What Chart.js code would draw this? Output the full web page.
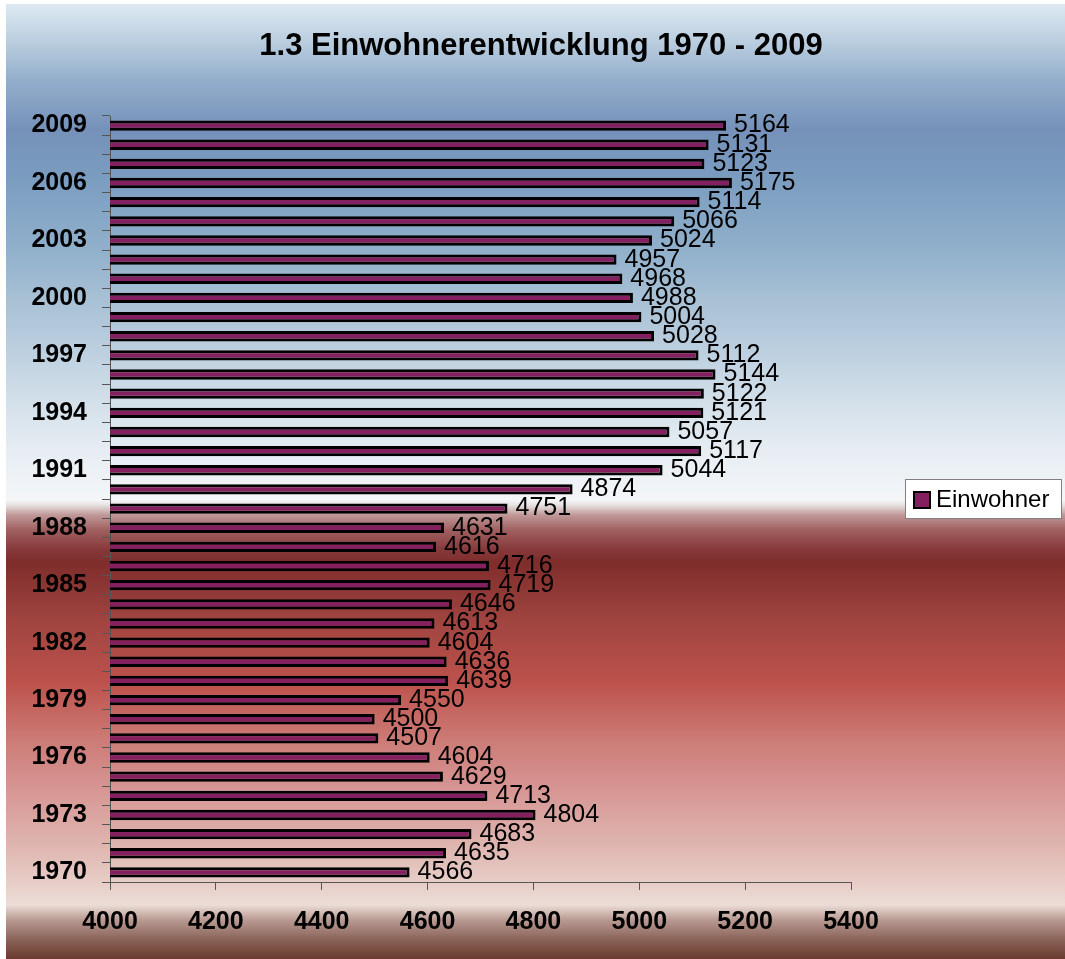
<!DOCTYPE html>
<html>
<head>
<meta charset="utf-8">
<title>1.3 Einwohnerentwicklung 1970 - 2009</title>
<script src="https://cdn.jsdelivr.net/npm/chart.js@4.4.0/dist/chart.umd.min.js"></script>
<style>
  html, body { margin: 0; padding: 0; background: #fff; }
</style>
</head>
<body>
<canvas id="chart" width="1065" height="959"></canvas>
<script>
// data, oldest year first (axis is reversed so 2009 sits on top)
const years = ['1970', '1971', '1972', '1973', '1974', '1975', '1976', '1977', '1978', '1979',
               '1980', '1981', '1982', '1983', '1984', '1985', '1986', '1987', '1988', '1989',
               '1990', '1991', '1992', '1993', '1994', '1995', '1996', '1997', '1998', '1999',
               '2000', '2001', '2002', '2003', '2004', '2005', '2006', '2007', '2008', '2009'];
const einwohner = [4566, 4635, 4683, 4804, 4713, 4629, 4604, 4507, 4500, 4550,
                   4639, 4636, 4604, 4613, 4646, 4719, 4716, 4616, 4631, 4751,
                   4874, 5044, 5117, 5057, 5121, 5122, 5144, 5112, 5028, 5004,
                   4988, 4968, 4957, 5024, 5066, 5114, 5175, 5123, 5131, 5164];
const seriesName = 'Einwohner';
const titleText = '1.3 Einwohnerentwicklung 1970 - 2009';
const xMin = 4000;
const xMax = 5400;
const xStep = 200;
const yearLabelEvery = 3;

const FONT = '"Liberation Sans", Arial, sans-serif';
const BAR_COLOR = '#84205f';

// background gradient stops: [page y, colour]
const bgStops = [
    [4, '#dde9f2'], [40, '#bccfe0'], [80, '#93aecb'], [130, '#7591b9'],
    [180, '#7b9dc0'], [250, '#90b0cb'], [300, '#a8c1d5'], [350, '#bccfdf'],
    [400, '#d2dfe9'], [450, '#e6edf3'], [500, '#f4f6f8'], [505, '#e8e2e2'],
    [515, '#c09898'], [530, '#a06060'], [550, '#86383a'], [562, '#7e2d2b'],
    [620, '#a04440'], [683, '#bd524c'], [740, '#cc7b76'], [783, '#d59290'],
    [850, '#e0b8b2'], [905, '#ecdcd6'], [920, '#b89a92'], [940, '#8a6258'],
    [959, '#6a3a2e']
];

const backgroundPlugin = {
    id: 'background',
    beforeDraw(chart) {
        const ctx = chart.ctx;
        ctx.save();
        ctx.fillStyle = '#ffffff';
        ctx.fillRect(0, 0, chart.width, chart.height);
        const g = ctx.createLinearGradient(0, 4, 0, 959);
        bgStops.forEach(([y, c]) => g.addColorStop((y - 4) / 955, c));
        ctx.fillStyle = g;
        ctx.fillRect(6, 4, chart.width - 6, chart.height - 4);
        ctx.restore();
    }
};

// value labels at the end of each bar
const valueLabelPlugin = {
    id: 'valueLabels',
    afterDatasetsDraw(chart) {
        const ctx = chart.ctx;
        const meta = chart.getDatasetMeta(0);
        const data = chart.data.datasets[0].data;
        ctx.save();
        ctx.font = '25px ' + FONT;
        ctx.fillStyle = '#000';
        ctx.textAlign = 'left';
        ctx.textBaseline = 'middle';
        meta.data.forEach((bar, i) => {
            ctx.fillText(String(data[i]), bar.x + 8, bar.y);
        });
        ctx.restore();
    }
};

// Excel-style boxed legend on the right
const boxLegendPlugin = {
    id: 'boxLegend',
    afterDraw(chart) {
        const ctx = chart.ctx;
        ctx.save();
        ctx.fillStyle = '#ffffff';
        ctx.fillRect(905, 479, 157, 40);
        ctx.strokeStyle = '#808080';
        ctx.lineWidth = 1;
        ctx.strokeRect(905.5, 479.5, 156, 39);
        ctx.fillStyle = BAR_COLOR;
        ctx.fillRect(913, 491, 18, 18);
        ctx.strokeStyle = '#000';
        ctx.lineWidth = 2;
        ctx.strokeRect(914, 492, 16, 16);
        ctx.fillStyle = '#000';
        ctx.font = '24px ' + FONT;
        ctx.textAlign = 'left';
        ctx.textBaseline = 'middle';
        ctx.fillText(chart.data.datasets[0].label, 936, 500);
        ctx.restore();
    }
};

new Chart(document.getElementById('chart'), {
    type: 'bar',
    data: {
        labels: years,
        datasets: [{
            label: seriesName,
            data: einwohner,
            backgroundColor: BAR_COLOR,
            borderColor: '#000000',
            borderWidth: 3,
            borderSkipped: false,
            barPercentage: 0.54,
            categoryPercentage: 1.0
        }]
    },
    options: {
        indexAxis: 'y',
        responsive: false,
        animation: false,
        devicePixelRatio: 1,
        layout: { padding: { left: 17, right: 0, top: 0, bottom: 0 } },
        plugins: {
            legend: { display: false },
            tooltip: { enabled: false },
            title: {
                display: true,
                text: titleText,
                color: '#000',
                font: { family: FONT, size: 31, weight: 'bold' },
                padding: { top: 28, bottom: 50.8 }
            }
        },
        scales: {
            x: {
                type: 'linear',
                position: 'bottom',
                min: xMin,
                max: xMax,
                ticks: {
                    stepSize: xStep,
                    color: '#000',
                    padding: 17,
                    font: { family: FONT, size: 25, weight: 'bold' },
                    callback: v => String(v)
                },
                grid: { display: true, drawOnChartArea: false, drawTicks: true, tickLength: 8, color: '#555' },
                border: { display: true, color: '#555', width: 1 },
                afterFit: s => { s.height = 77; }
            },
            y: {
                type: 'category',
                reverse: true,
                position: 'left',
                ticks: {
                    autoSkip: false,
                    color: '#000',
                    padding: 15,
                    font: { family: FONT, size: 25, weight: 'bold' },
                    callback: function (val, i) {
                        return i % yearLabelEvery === 0 ? this.getLabelForValue(val) : '';
                    }
                },
                grid: { display: true, offset: true, drawOnChartArea: false, drawTicks: true, tickLength: 8, color: '#555' },
                border: { display: true, color: '#555', width: 1 },
                afterFit: s => { s.width = 93; }
            },
            // empty right axis only reserves room for the legend box
            yLegendSpace: {
                type: 'linear',
                position: 'right',
                display: true,
                ticks: { display: false },
                grid: { display: false },
                border: { display: false },
                afterFit: s => { s.width = 214; }
            }
        }
    },
    plugins: [backgroundPlugin, valueLabelPlugin, boxLegendPlugin]
});
</script>
</body>
</html>
